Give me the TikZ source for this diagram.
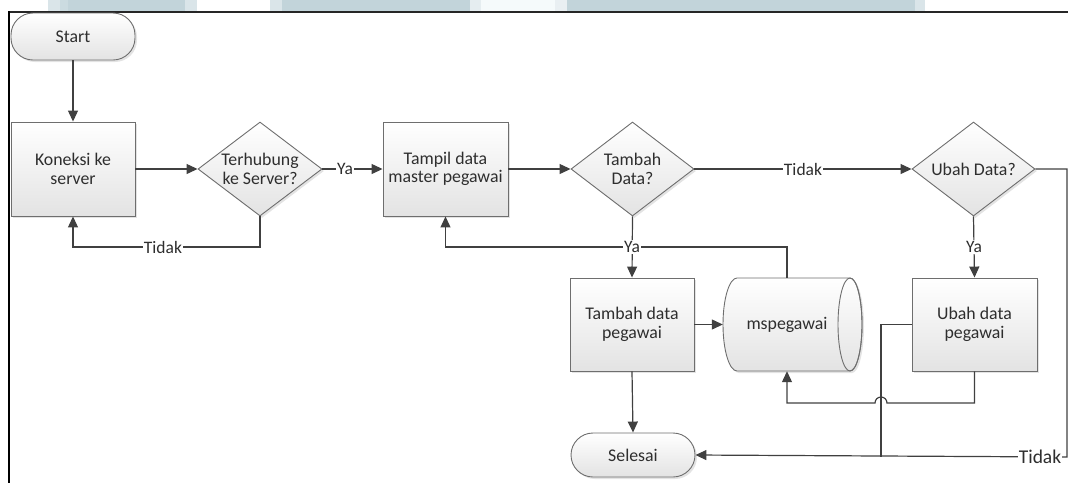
\documentclass[tikz,border=0pt]{standalone}
\usepackage{fontspec}
\setmainfont{Carlito}
\usetikzlibrary{shapes.geometric,arrows.meta,shadows}

\definecolor{linec}{HTML}{404040}
\definecolor{edgec}{HTML}{6E6E6E}
\definecolor{txtc}{HTML}{2E2E2E}
\definecolor{headc}{HTML}{C2D4DA}
\definecolor{headpale}{HTML}{DAE5E9}
\definecolor{headlight}{HTML}{F5FAFB}

\tikzset{
  shapefill/.style={draw=edgec, line width=0.9pt, top color=white, bottom color=black!11,
    drop shadow={opacity=0.22, shadow xshift=2pt, shadow yshift=-2pt}},
  txt/.style={text=txtc, font=\fontsize{17.8}{18.5}\selectfont, align=center},
  flowbase/.style={shapefill, txt, inner sep=0pt},
  procbox/.style={flowbase, rectangle, minimum width=124pt, minimum height=94pt},
  termbox/.style={flowbase, rectangle, rounded corners=22pt, minimum width=124pt},
  decision/.style={flowbase, diamond, minimum width=124pt, minimum height=94pt},
  plain/.style={draw=linec, line width=1.2pt},
  flow/.style={plain, -{Triangle[length=11pt,width=10pt]}},
  tag/.style={fill=white, text=txtc, font=\fontsize{17.5}{18}\selectfont, inner sep=1pt},
  bigtag/.style={tag, font=\fontsize{19.5}{20}\selectfont},
}

\begin{document}
\begin{tikzpicture}[x=1pt, y=-1pt]
\useasboundingbox (0,0) rectangle (1068,483);

% header strip
\fill[headpale]  (48,0) rectangle (60,11);
\fill[headc!85]  (60,0) rectangle (68,11);
\fill[headc]     (68,0) rectangle (185,11);
\fill[headpale]  (185,0) rectangle (197,11);
\fill[headpale]  (270,0) rectangle (282,11);
\fill[headc]     (282,0) rectangle (470,11);
\fill[headpale!70] (470,0) rectangle (481,11);
\fill[headlight] (481,0) rectangle (555,11);
\fill[headpale!60] (555,0) rectangle (567,11);
\fill[headc]     (567,0) rectangle (915,11);
\fill[headpale]  (915,0) rectangle (925,11);

% frame lines
\draw[line width=1.6pt, black!85] (8,12) -- (1068,12);
\draw[line width=2.4pt, black] (8.7,11.2) -- (8.7,483);

% process shapes
\node[termbox, minimum height=47pt] (start) at (73,36.5) {Start};
\node[procbox] (kon) at (73,169) {Koneksi ke\\server};
\node[decision, label={[txt]center:Terhubung\\ke Server?}] (q1) at (260,169) {};
\node[procbox, minimum width=125pt] (tampil) at (445.5,169) {Tampil data\\master pegawai};
\node[decision, minimum width=123pt, label={[txt]center:Tambah\\Data?}] (q2) at (632.5,169) {};
\node[decision, minimum width=123pt, label={[txt]center:Ubah Data?}] (q3) at (973.5,169) {};
\node[procbox, minimum height=93pt] (tambah) at (632,324.5) {Tambah data\\pegawai};
\node[procbox, minimum width=125pt, minimum height=93pt] (ubah) at (974.5,324.5) {Ubah data\\pegawai};
\node[termbox, minimum height=44pt] (selesai) at (633,455) {Selesai};

% stored data drum
\path[shapefill] (737,278) -- (850,278)
  arc[start angle=90, end angle=-90, x radius=12pt, y radius=46.5pt]
  -- (737,371)
  arc[start angle=270, end angle=90, x radius=14pt, y radius=46.5pt] -- cycle;
\draw[draw=edgec, line width=0.9pt] (850,324.5) ellipse[x radius=12pt, y radius=46.5pt];
\node[txt, inner sep=0pt, minimum width=128pt, minimum height=93pt] (ms) at (787,324.5) {mspegawai};

% connectors
\draw[flow] (start) -- (kon);
\draw[flow] (kon) -- (q1);
\draw[flow] (q1.south) -- (260,247) -| (kon.south);
\draw[flow] (q1.east) -- (tampil.west);
\draw[flow] (tampil.east) -- (q2.west);
\draw[flow] (q2.east) -- (q3.west);
\draw[flow] (ms.north) -- (787,247) -| (tampil.south);
\draw[flow] (q2.south) -- (tambah.north);
\draw[flow] (tambah.east) -- (ms.west);
\draw[flow] (q3.south) -- (ubah.north);
\draw[flow] (tambah.south) -- (selesai.north);
\draw[flow] (ubah.south) -- (974.5,403) -- (887,403)
  arc[start angle=0, end angle=180, radius=6pt] -- (787,403) -- (ms.south);
\coordinate (join) at (881,457);
\draw[plain] (ubah.west) -- (881,324.5) -- (join);
\draw[flow] (q3.east) -- (1067,169) -- (1067,457) -- (selesai.east);

% branch labels
\node[tag] (tq1no) at (163,247) {Tidak};
\node[tag] (tq1yes) at (345,169) {Ya};
\node[tag] (tq2no) at (803,169) {Tidak};
\node[tag] (tq2yes) at (632,247) {Ya};
\node[tag] (tq3yes) at (974,247) {Ya};
\node[bigtag] (tq3no) at (1040,457) {Tidak};
\end{tikzpicture}
\end{document}
